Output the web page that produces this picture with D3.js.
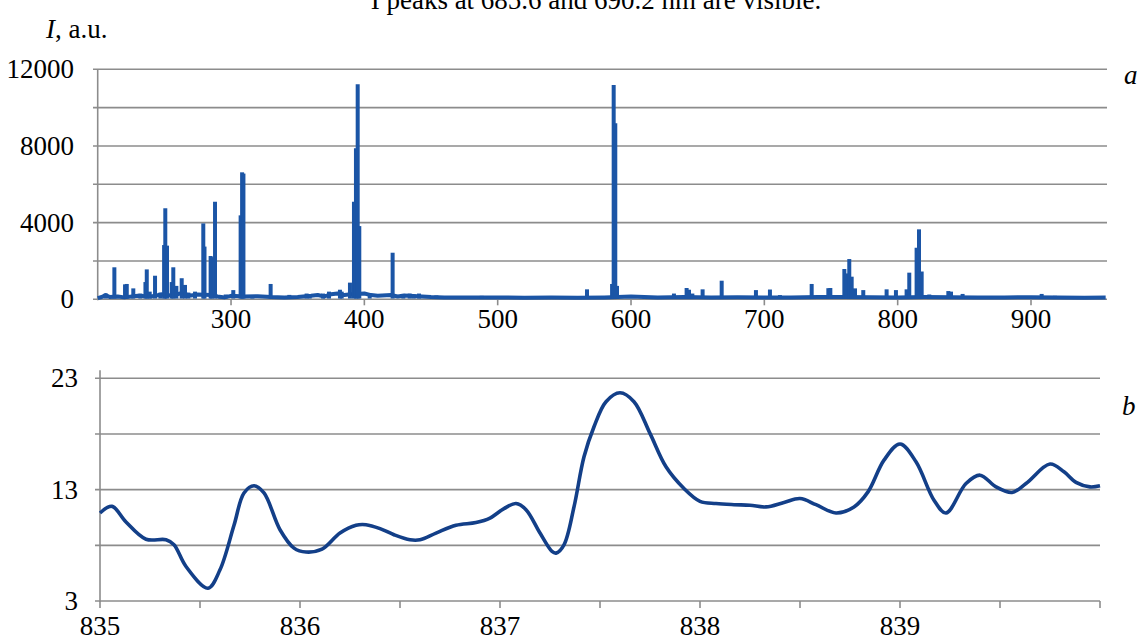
<!DOCTYPE html>
<html>
<head>
<meta charset="utf-8">
<script src="https://cdn.jsdelivr.net/npm/d3@7"></script>
<style>
  body { margin: 0; background: #fff; }
  svg text { font-family: "Liberation Serif", "Times New Roman", "DejaVu Serif", serif; fill: #000; }
</style>
</head>
<body>
<svg id="chart" width="1137" height="642" font-family="Liberation Serif, Times New Roman, serif"></svg>
<script>
// Panel a: emission spectrum, wavelength (nm) vs intensity (a.u.)
const baseWl = [200, 203, 206, 209, 215, 220, 230, 240, 248, 255, 262, 270, 275, 285, 290, 295, 300, 310,
  320, 330, 340, 350, 360, 365, 370, 375, 380, 385, 390, 400, 405, 410, 420, 425, 430, 440, 450, 460,
  480, 500, 520, 540, 560, 580, 600, 620, 640, 660, 680, 700, 720, 740, 760, 780, 800, 820, 840, 860,
  880, 900, 920, 940, 956];
const baseI = [60, 120, 220, 120, 150, 100, 180, 150, 250, 200, 300, 200, 250, 220, 150, 100, 180, 150,
  160, 120, 100, 120, 180, 220, 150, 260, 300, 220, 260, 300, 220, 180, 220, 150, 200, 160, 120, 100,
  90, 100, 80, 90, 80, 100, 140, 100, 120, 100, 110, 90, 100, 120, 120, 110, 100, 120, 110, 90,
  100, 110, 100, 80, 90];

const peakWl = [206, 212.5, 220.5, 221.8, 226.7, 232, 235.8, 236.8, 239, 243, 247, 249.8, 250.7, 252,
  255.5, 256.7, 259, 263, 265.5, 268, 273, 279.2, 280.1, 284.7, 285.5, 288, 292, 296, 301.7, 307.2,
  308.3, 309.3, 316, 329.7, 343.7, 356.7, 359, 369, 373.5, 381.7, 383, 389.2, 392.2, 393.7, 395, 396.2,
  404, 421.2, 429.2, 434, 437, 441, 454, 488, 493, 516.7, 527, 561, 567, 585.8, 587, 588.2, 589.5,
  610, 615, 632.2, 641.7, 643.5, 646, 653.7, 668, 693.7, 704.2, 711.7, 720, 735.5, 748, 749.5, 760,
  761.7, 763.7, 765.5, 768, 774.2, 791.7, 798.7, 806.7, 808.7, 814.2, 816, 818, 823.7, 838, 840,
  848.7, 870, 880, 908, 918, 940];
const peakI = [300, 1670, 780, 800, 570, 300, 900, 1560, 400, 1230, 350, 2830, 4750, 2800,
  900, 1670, 700, 1100, 750, 350, 400, 3960, 2750, 2260, 2200, 5090, 200, 250, 480, 4380,
  6625, 6560, 200, 800, 230, 300, 250, 300, 400, 500, 400, 870, 5090, 7880, 11215, 3820,
  300, 2430, 280, 300, 250, 300, 200, 180, 150, 150, 120, 150, 520, 800, 11180, 9180, 700,
  150, 150, 300, 590, 500, 300, 520, 970, 480, 510, 220, 150, 800, 580, 590, 1580,
  1350, 2100, 1180, 570, 480, 520, 480, 520, 1390, 2690, 3650, 1450, 250, 430, 400,
  280, 150, 150, 280, 180, 150];

const topYTicks = [0, 2000, 4000, 6000, 8000, 10000, 12000];
const topYLabels = [0, 4000, 8000, 12000];
const topXTicks = [300, 400, 500, 600, 700, 800, 900];

// Panel b: detail 835-840 nm
const detWl = [835.0, 835.06, 835.13, 835.23, 835.33, 835.37, 835.43, 835.54, 835.6, 835.67, 835.72,
  835.77, 835.82, 835.9, 835.97, 836.03, 836.11, 836.2, 836.28, 836.33, 836.4, 836.47, 836.55, 836.6,
  836.68, 836.78, 836.88, 836.95, 837.02, 837.08, 837.13, 837.2, 837.26, 837.28, 837.32, 837.37,
  837.42, 837.47, 837.53, 837.6, 837.67, 837.75, 837.83, 837.92, 838.0, 838.08, 838.17, 838.25,
  838.33, 838.42, 838.5, 838.58, 838.68, 838.77, 838.84, 838.92, 839.0, 839.08, 839.17, 839.23,
  839.33, 839.4, 839.48, 839.56, 839.63, 839.75, 839.82, 839.88, 839.95, 840.0];
const detI = [10.9, 11.5, 10.1, 8.55, 8.5, 8.05, 6.1, 4.15, 5.8, 9.8, 12.7,
  13.35, 12.7, 9.4, 7.75, 7.4, 7.65, 9.1, 9.8, 9.85, 9.5, 8.95, 8.5, 8.5,
  9.1, 9.8, 10.05, 10.45, 11.3, 11.75, 11.2, 9.1, 7.45, 7.3, 8.05, 11.45,
  15.95, 18.65, 20.9, 21.7, 20.9, 18.05, 15.05, 13.1, 11.95, 11.75, 11.65, 11.6,
  11.45, 11.85, 12.2, 11.65, 10.9, 11.45, 12.8, 15.65, 17.1, 15.5, 12.05, 10.9,
  13.55, 14.3, 13.25, 12.75, 13.55, 15.3, 14.6, 13.65, 13.25, 13.35];

const botYTicks = [3, 8, 13, 18, 23];
const botYLabels = [3, 13, 23];
const botXTicks = [835, 835.5, 836, 836.5, 837, 837.5, 838, 838.5, 839, 839.5, 840];
const botXLabels = [835, 836, 837, 838, 839];

const gridColor = "#8c8c8c";
const fontSize = 27;
const serif = "'Liberation Serif', 'Times New Roman', serif";

const svg = d3.select("#chart");
svg.append("rect").attr("width", 1137).attr("height", 642).attr("fill", "#fff");

function label(sel) {
    return sel.style("font-family", serif).style("font-size", fontSize + "px");
}

// caption cut off at the top of the picture
label(svg.append("text"))
    .attr("x", 596).attr("y", 9)
    .attr("text-anchor", "middle")
    .text("I peaks at 685.6 and 690.2 nm are visible.");

// ---------- panel a ----------
const xTop = d3.scaleLinear().domain([200, 957]).range([97.7, 1107]);
const yTop = d3.scaleLinear().domain([0, 12000]).range([299.3, 69.3]);

const gTop = svg.append("g");

gTop.selectAll(".gridTop")
    .data(topYTicks)
    .enter().append("line")
    .attr("x1", 93).attr("x2", xTop.range()[1])
    .attr("y1", d => yTop(d)).attr("y2", d => yTop(d))
    .attr("stroke", gridColor).attr("stroke-width", 1.6);

gTop.append("line")
    .attr("x1", xTop.range()[0]).attr("x2", xTop.range()[0])
    .attr("y1", yTop(12000)).attr("y2", yTop(0) + 1)
    .attr("stroke", gridColor).attr("stroke-width", 1.6);

gTop.selectAll(".xtickTop")
    .data(topXTicks)
    .enter().append("line")
    .attr("x1", d => xTop(d)).attr("x2", d => xTop(d))
    .attr("y1", yTop(0)).attr("y2", yTop(0) + 6)
    .attr("stroke", gridColor).attr("stroke-width", 1.6);

label(gTop.selectAll(".ylabTop")
    .data(topYLabels)
    .enter().append("text"))
    .attr("x", 74).attr("y", d => yTop(d) + 9)
    .attr("text-anchor", "end")
    .text(d => d);

label(gTop.selectAll(".xlabTop")
    .data(topXTicks)
    .enter().append("text"))
    .attr("x", d => xTop(d)).attr("y", 328)
    .attr("text-anchor", "middle")
    .text(d => d);

const specColor = "#1b55a6";
const baseLine = d3.line()
    .x((d, i) => xTop(baseWl[i]))
    .y(d => yTop(d));

gTop.append("path")
    .datum(baseI)
    .attr("d", baseLine)
    .attr("fill", "none")
    .attr("stroke", specColor)
    .attr("stroke-width", 4)
    .attr("stroke-linejoin", "round");

gTop.selectAll(".peak")
    .data(peakWl)
    .enter().append("line")
    .attr("x1", d => xTop(d)).attr("x2", d => xTop(d))
    .attr("y1", yTop(40))
    .attr("y2", (d, i) => yTop(peakI[i]))
    .attr("stroke", specColor)
    .attr("stroke-width", 4);

// axis title and panel letter
const yTitle = label(svg.append("text"))
    .attr("x", 46).attr("y", 38);
yTitle.append("tspan").style("font-style", "italic").text("I");
yTitle.append("tspan").text(", a.u.");

label(svg.append("text"))
    .attr("x", 1124).attr("y", 84)
    .style("font-style", "italic")
    .text("a");

// ---------- panel b ----------
const xBot = d3.scaleLinear().domain([835, 840]).range([100, 1100]);
const yBot = d3.scaleLinear().domain([3, 23]).range([601, 378.3]);

const gBot = svg.append("g");

gBot.selectAll(".gridBot")
    .data(botYTicks)
    .enter().append("line")
    .attr("x1", 95).attr("x2", xBot.range()[1])
    .attr("y1", d => yBot(d)).attr("y2", d => yBot(d))
    .attr("stroke", gridColor).attr("stroke-width", 1.6);

gBot.append("line")
    .attr("x1", xBot.range()[0]).attr("x2", xBot.range()[0])
    .attr("y1", yBot(23) - 8).attr("y2", yBot(3) + 1)
    .attr("stroke", gridColor).attr("stroke-width", 1.6);

gBot.selectAll(".xtickBot")
    .data(botXTicks)
    .enter().append("line")
    .attr("x1", d => xBot(d)).attr("x2", d => xBot(d))
    .attr("y1", yBot(3)).attr("y2", yBot(3) + 7)
    .attr("stroke", gridColor).attr("stroke-width", 1.6);

label(gBot.selectAll(".ylabBot")
    .data(botYLabels)
    .enter().append("text"))
    .attr("x", 78).attr("y", d => yBot(d) + 9)
    .attr("text-anchor", "end")
    .text(d => d);

label(gBot.selectAll(".xlabBot")
    .data(botXLabels)
    .enter().append("text"))
    .attr("x", d => xBot(d)).attr("y", 635)
    .attr("text-anchor", "middle")
    .text(d => d);

const detLine = d3.line()
    .x((d, i) => xBot(detWl[i]))
    .y(d => yBot(d))
    .curve(d3.curveCatmullRom.alpha(0.5));

gBot.append("path")
    .datum(detI)
    .attr("d", detLine)
    .attr("fill", "none")
    .attr("stroke", "#133f88")
    .attr("stroke-width", 3.6)
    .attr("stroke-linejoin", "round");

label(svg.append("text"))
    .attr("x", 1122).attr("y", 415)
    .style("font-style", "italic")
    .text("b");
</script>
</body>
</html>
